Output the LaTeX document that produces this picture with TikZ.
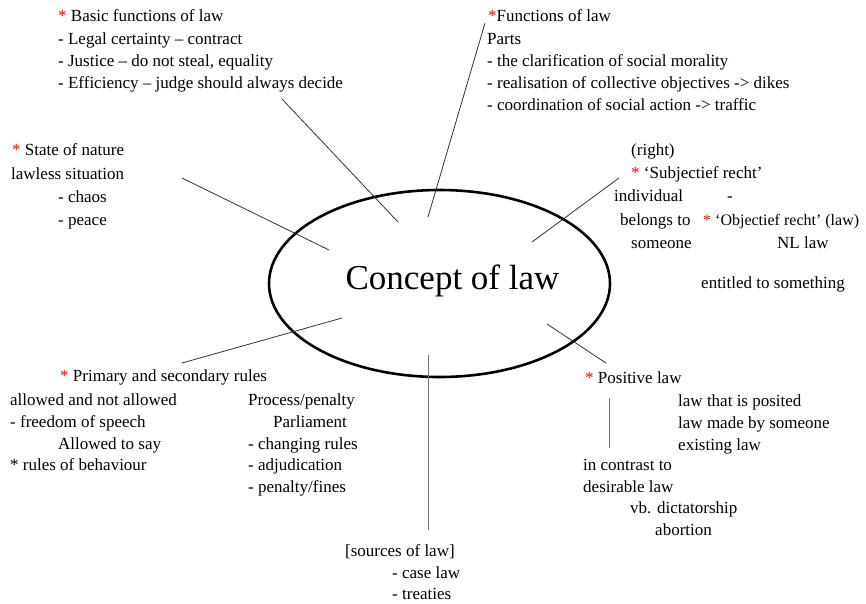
\documentclass[tikz,border=0pt]{standalone}
\usepackage{fontspec}
\setmainfont{Liberation Serif}
\usepackage{tikz}
\usetikzlibrary{shapes.geometric}
\tikzstyle{txt} = [anchor=mid west, inner sep=0pt, yshift=-1.5pt, font=\fontsize{17}{20}\selectfont]
\tikzstyle{concept} = [ellipse, draw=black, line width=2.6pt, minimum width=341pt, minimum height=187pt, inner sep=0pt]
\tikzstyle{title} = [anchor=base, inner sep=0pt, font=\fontsize{35}{40}\selectfont]
\tikzstyle{link} = [draw=black!80, line width=0.8pt]
\tikzstyle{linkv} = [draw=black!55, line width=0.9pt]
\newcommand{\rs}{\textcolor{red}{*}}

\begin{document}
\begin{tikzpicture}[x=1pt, y=-1pt]

	\fill[white] (0,0) rectangle (866,603);
	\useasboundingbox (0,0) rectangle (866,603);

	\node (law) [concept] at (439.5,283.5) {};
	\node (lawtxt) [title] at (452.5,289) {Concept of law};

	% basic functions
	\node (basic) [txt] at (58,18) {\rs{} Basic functions of law};
	\node (basica) [txt] at (58,41) {- Legal certainty -- contract};
	\node (basicb) [txt] at (58,63) {- Justice -- do not steal, equality};
	\node (basicc) [txt] at (58,85) {- Efficiency -- judge should always decide};

	% state of nature
	\node (nature) [txt] at (12,152) {\rs{} State of nature};
	\node (naturea) [txt] at (11,176) {lawless situation};
	\node (natureb) [txt] at (58,199) {- chaos};
	\node (naturec) [txt] at (58,222) {- peace};

	% functions
	\node (func) [txt] at (488,18) {\rs Functions of law};
	\node (funca) [txt] at (487,41) {Parts};
	\node (funcb) [txt] at (487,63) {- the clarification of social morality};
	\node (funcc) [txt] at (487,85) {- realisation of collective objectives -> dikes};
	\node (funcd) [txt] at (487,107) {- coordination of social action -> traffic};

	% subjectief / objectief
	\node (right) [txt] at (631,152) {(right)};
	\node (subj) [txt] at (631,175) {\rs{} ‘Subjectief recht’};
	\node (subja) [txt] at (614,198) {individual};
	\node (dash) [txt] at (727,198) {-};
	\node (subjb) [txt] at (620,222) {belongs to};
	\node (obj) [txt, font=\fontsize{16}{20}\selectfont] at (703,222) {\rs{} ‘Objectief recht’ (law)};
	\node (subjc) [txt] at (631,245) {someone};
	\node (obja) [txt] at (777,245) {NL law};
	\node (entitled) [txt] at (701,285) {entitled to something};

	% primary and secondary
	\node (rules) [txt] at (60,378) {\rs{} Primary and secondary rules};
	\node (prima) [txt] at (10,402) {allowed and not allowed};
	\node (primb) [txt] at (10,424) {- freedom of speech};
	\node (primc) [txt] at (58,446) {Allowed to say};
	\node (primd) [txt] at (10,467) {* rules of behaviour};
	\node (seca) [txt] at (248,402) {Process/penalty};
	\node (secb) [txt] at (273,424) {Parliament};
	\node (secc) [txt] at (248,446) {- changing rules};
	\node (secd) [txt] at (248,467) {- adjudication};
	\node (sece) [txt] at (248,489) {- penalty/fines};

	% positive law
	\node (pos) [txt] at (585,380) {\rs{} Positive law};
	\node (posa) [txt] at (678,403) {law that is posited};
	\node (posb) [txt] at (678,425) {law made by someone};
	\node (posc) [txt] at (678,447) {existing law};
	\node (posd) [txt] at (583,467) {in contrast to};
	\node (pose) [txt] at (583,489) {desirable law};
	\node (posf) [txt] at (630,510) {vb. dictatorship};
	\node (posg) [txt] at (655,532) {abortion};

	% sources
	\node (src) [txt] at (345,553) {[sources of law]};
	\node (srca) [txt] at (392,575) {- case law};
	\node (srcb) [txt] at (392,596) {- treaties};

	% line ends
	\coordinate (basicend) at (282,99);
	\coordinate (basicin) at (398,222);
	\coordinate (funcend) at (485,23);
	\coordinate (funcin) at (428,217);
	\coordinate (natureend) at (182,178);
	\coordinate (naturein) at (329,250);
	\coordinate (subjend) at (619,178);
	\coordinate (subjin) at (532,242);
	\coordinate (rulesend) at (182,363);
	\coordinate (rulesin) at (342,318);
	\coordinate (srcend) at (428,530);
	\coordinate (srcin) at (428,355);
	\coordinate (posend) at (606,363);
	\coordinate (posin) at (547,324);
	\coordinate (postop) at (609,398);
	\coordinate (posbot) at (609,448);

	\draw [link] (basicin) -- (basicend);
	\draw [link] (funcin) -- (funcend);
	\draw [link] (naturein) -- (natureend);
	\draw [link] (subjin) -- (subjend);
	\draw [link] (rulesin) -- (rulesend);
	\draw [linkv] (srcin) -- (srcend);
	\draw [link] (posin) -- (posend);
	\draw [linkv] (postop) -- (posbot);

\end{tikzpicture}
\end{document}
